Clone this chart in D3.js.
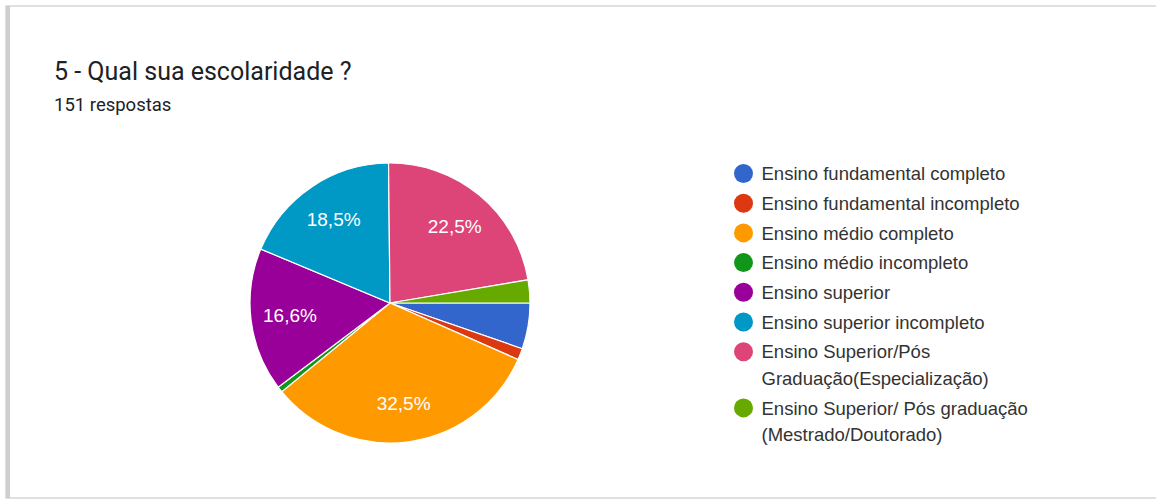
<!DOCTYPE html>
<html lang="pt">
<head>
<meta charset="utf-8">
<title>5 - Qual sua escolaridade ?</title>
<script src="https://cdn.jsdelivr.net/npm/d3@7/dist/d3.min.js"></script>
<style>
  html, body { margin: 0; padding: 0; background: #fff; }
  svg { display: block; }
</style>
</head>
<body>
<script>
// categories in legend order
var categories = [
  "Ensino fundamental completo",
  "Ensino fundamental incompleto",
  "Ensino médio completo",
  "Ensino médio incompleto",
  "Ensino superior",
  "Ensino superior incompleto",
  "Ensino Superior/Pós Graduação(Especialização)",
  "Ensino Superior/ Pós graduação (Mestrado/Doutorado)"
];
// legend text, split into lines as shown
var legendLines = [
  ["Ensino fundamental completo"],
  ["Ensino fundamental incompleto"],
  ["Ensino médio completo"],
  ["Ensino médio incompleto"],
  ["Ensino superior"],
  ["Ensino superior incompleto"],
  ["Ensino Superior/Pós", "Graduação(Especialização)"],
  ["Ensino Superior/ Pós graduação", "(Mestrado/Doutorado)"]
];
// number of answers (151 total)
var counts = [8, 2, 49, 1, 25, 28, 34, 4];
var colors = ["#3366cc", "#dc3912", "#ff9900", "#109618", "#990099", "#0099c6", "#dd4477", "#66aa00"];

var title = "5 - Qual sua escolaridade ?";
var subtitle = "151 respostas";

var W = 1156, H = 502;
var svg = d3.select("body").append("svg")
    .attr("width", W)
    .attr("height", H);

// card
svg.append("rect")
    .attr("x", 6).attr("y", 6)
    .attr("width", W + 20).attr("height", 492)
    .attr("fill", "#fff")
    .attr("stroke", "#d6d6d6")
    .attr("stroke-width", 1.5);
svg.append("rect")
    .attr("x", 6).attr("y", 6)
    .attr("width", 4).attr("height", 492)
    .attr("fill", "#cfcfcf");

svg.append("text")
    .attr("x", 54).attr("y", 80)
    .attr("font-family", "Roboto, 'Noto Sans', sans-serif")
    .attr("font-size", 25)
    .attr("fill", "#202124")
    .text(title);

svg.append("text")
    .attr("x", 54).attr("y", 110.5)
    .attr("font-family", "Roboto, 'Noto Sans', sans-serif")
    .attr("font-size", 18.5)
    .attr("fill", "#202124")
    .text(subtitle);

// pie
var cx = 390, cy = 303, r = 140;
var total = d3.sum(counts);
var data = categories.map(function(c, i) {
    return { name: c, value: counts[i], color: colors[i] };
});

var pie = d3.pie()
    .value(function(d) { return d.value; })
    .sort(null)
    .startAngle(Math.PI / 2)
    .endAngle(Math.PI / 2 + 2 * Math.PI);

var arc = d3.arc().innerRadius(0).outerRadius(r);
var labelArc = d3.arc().innerRadius(r * 0.72).outerRadius(r * 0.72);

var g = svg.append("g").attr("transform", "translate(" + cx + "," + cy + ")");
var arcs = pie(data);

g.selectAll("path.slice")
    .data(arcs)
    .enter().append("path")
    .attr("class", "slice")
    .attr("d", arc)
    .attr("fill", function(d) { return d.data.color; })
    .attr("stroke", "#fff")
    .attr("stroke-width", 1.2);

var fmt = function(v) { return (v * 100).toFixed(1).replace(".", ",") + "%"; };

g.selectAll("text.pct")
    .data(arcs.filter(function(d) { return d.data.value / total > 0.1; }))
    .enter().append("text")
    .attr("class", "pct")
    .attr("transform", function(d) { return "translate(" + labelArc.centroid(d) + ")"; })
    .attr("text-anchor", "middle")
    .attr("dy", "0.36em")
    .attr("font-family", "Arial, 'Liberation Sans', sans-serif")
    .attr("font-size", 19)
    .attr("fill", "#fff")
    .text(function(d) { return fmt(d.data.value / total); });

// legend
var legend = svg.append("g").attr("transform", "translate(743.5,0)");
var y = 173.5;
legendLines.forEach(function(lines, i) {
    var item = legend.append("g").attr("transform", "translate(0," + y + ")");
    item.append("circle")
        .attr("cx", 0).attr("cy", 0).attr("r", 9.5)
        .attr("fill", colors[i]);
    lines.forEach(function(t, j) {
        item.append("text")
            .attr("x", 18)
            .attr("y", j * 26.5)
            .attr("dy", "0.36em")
            .attr("font-family", "Arial, 'Liberation Sans', sans-serif")
            .attr("font-size", 18.5)
            .attr("fill", "#333")
            .text(t);
    });
    y += 29.7 + (lines.length - 1) * 26.5;
});
</script>
</body>
</html>
